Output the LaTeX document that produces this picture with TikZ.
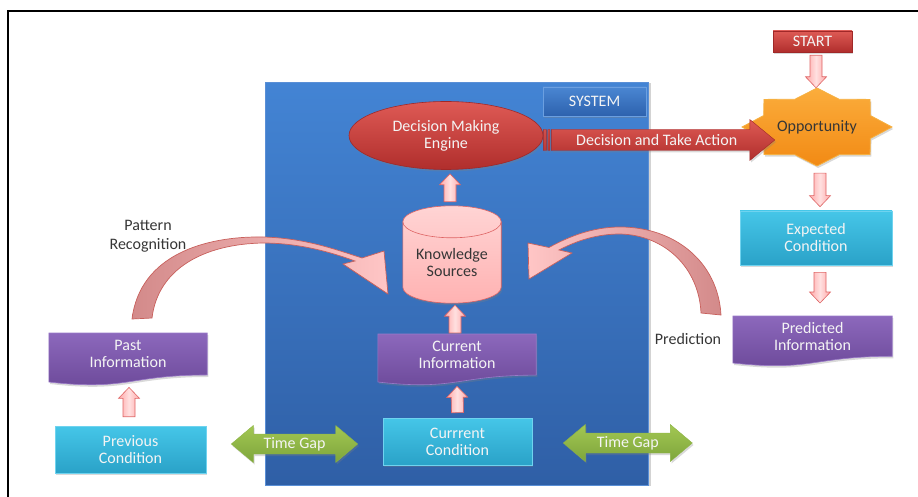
\documentclass[tikz,border=0pt]{standalone}
\usepackage{fontspec}
\setmainfont{Carlito}
\usetikzlibrary{calc,shadows,shapes.geometric}
\pgfdeclarelayer{back}
\pgfdeclarelayer{bg}
\pgfsetlayers{back,bg,main}

\definecolor{sysTop}{HTML}{4384D4}
\definecolor{sysBot}{HTML}{2F5FA6}
\definecolor{sysEdge}{HTML}{5A8FD6}
\definecolor{badgeTop}{HTML}{4A86D2}
\definecolor{badgeBot}{HTML}{2D62AE}
\definecolor{badgeEdge}{HTML}{6B9FE0}
\definecolor{redTop}{HTML}{DE5A55}
\definecolor{redBot}{HTML}{B02E2C}
\definecolor{redEdge}{HTML}{A02828}
\definecolor{cyanTop}{HTML}{45C6E8}
\definecolor{cyanBot}{HTML}{2AA2C8}
\definecolor{cyanEdge}{HTML}{6FD3EF}
\definecolor{purpTop}{HTML}{8C68BC}
\definecolor{purpBot}{HTML}{6B4898}
\definecolor{purpEdge}{HTML}{9A7AC8}
\definecolor{greenTop}{HTML}{A2C752}
\definecolor{greenBot}{HTML}{7EA53C}
\definecolor{greenEdge}{HTML}{8DB445}
\definecolor{pinkMid}{HTML}{FFE0E0}
\definecolor{pinkSide}{HTML}{FFA8A8}
\definecolor{pinkEdge}{HTML}{DE6464}
\definecolor{orangeTop}{HTML}{FBAD3C}
\definecolor{orangeBot}{HTML}{F28A14}
\definecolor{orangeEdge}{HTML}{F6B040}
\definecolor{cylTop}{HTML}{FFD4D4}
\definecolor{cylBot}{HTML}{FFB2B2}
\definecolor{curveDark}{HTML}{D38A8A}
\definecolor{curveLight}{HTML}{FFC6C6}
\definecolor{curveEdge}{HTML}{C8605C}
\definecolor{darkText}{HTML}{363636}
\definecolor{boxText}{HTML}{F4F4F4}

% pink block arrow from #2 (tail) to #3 (tip)
\newcommand{\blockarrow}[3][]{%
  \coordinate (ba-h) at ($(#3)!11pt!(#2)$);
  \path[pinkblock,#1] ($(#2)!6pt!90:(#3)$) -- ($(ba-h)!6pt!90:(#3)$)
    -- ($(ba-h)!10.5pt!90:(#3)$) -- (#3) -- ($(ba-h)!10.5pt!-90:(#3)$)
    -- ($(ba-h)!6pt!-90:(#3)$) -- ($(#2)!6pt!-90:(#3)$) -- cycle;}

% green two-headed arrow between #1 and #2, labelled node #3
\newcommand{\timegap}[3]{%
  \coordinate (tg-a) at ($(#1)!22pt!(#2)$);
  \coordinate (tg-b) at ($(#2)!22pt!(#1)$);
  \path[greenblock] (#1) -- ($(tg-a)!18.5pt!90:(#2)$) -- ($(tg-a)!10pt!90:(#2)$)
    -- ($(tg-b)!10pt!-90:(#1)$) -- ($(tg-b)!18.5pt!-90:(#1)$) -- (#2)
    -- ($(tg-b)!18.5pt!90:(#1)$) -- ($(tg-b)!10pt!90:(#1)$)
    -- ($(tg-a)!10pt!-90:(#2)$) -- ($(tg-a)!18.5pt!-90:(#2)$) -- cycle;
  \node[text=boxText] (#3) at ($(#1)!0.5!(#2)$) {Time Gap};}

% document shape behind text node #1, left edge depth #2
\newcommand{\docshape}[2]{%
  \begin{pgfonlayer}{bg}
  \path[docfill] let \p1=(#1.north west), \p2=(#1.north east) in
    (\x1,\y1) -- (\x2,\y1) -- (\x2,\y1-0.857*#2)
    .. controls (0.5*\x1+0.5*\x2,\y1-0.857*#2) and (0.5*\x1+0.5*\x2,\y1-1.186*#2) ..
    (\x1,\y1-#2) -- cycle;
  \end{pgfonlayer}}

\begin{document}
\begin{tikzpicture}[x=1pt,y=-1pt,
  every node/.style={align=center, inner sep=0pt},
  font=\fontsize{16}{17}\selectfont,
  softshadow/.style={drop shadow={shadow xshift=1.2pt, shadow yshift=-2pt, opacity=0.3}},
  sysbox/.style={rectangle, draw=sysEdge, line width=0.6pt, top color=sysTop, bottom color=sysBot,
    drop shadow={shadow xshift=3pt, shadow yshift=-1pt, opacity=0.35}},
  badge/.style={rectangle, draw=badgeEdge, line width=0.6pt, top color=badgeTop, bottom color=badgeBot, text=boxText, softshadow},
  engine/.style={ellipse, draw=redEdge, line width=0.6pt, top color=redTop, bottom color=redBot, text=boxText, softshadow},
  startbox/.style={rectangle, draw=redEdge, line width=0.6pt, top color=redTop, bottom color=redBot, text=boxText, softshadow},
  condbox/.style={rectangle, draw=cyanEdge, line width=0.6pt, top color=cyanTop, bottom color=cyanBot, text=boxText, softshadow},
  doctext/.style={anchor=north, minimum height=41pt, text=boxText},
  docfill/.style={draw=purpEdge, line width=0.6pt, top color=purpTop, bottom color=purpBot, softshadow},
  pinkblock/.style={draw=pinkEdge, line width=0.6pt, left color=pinkSide, right color=pinkSide, middle color=pinkMid},
  greenblock/.style={draw=greenEdge, line width=0.4pt, top color=greenTop, bottom color=greenBot, softshadow},
  redarrow/.style={draw=redEdge, line width=0.4pt, top color=redTop, bottom color=redBot, softshadow},
  starstyle/.style={draw=orangeEdge, line width=0.8pt, top color=orangeTop, bottom color=orangeBot, softshadow},
  cylfill/.style={draw=pinkEdge, line width=0.6pt, top color=cylTop, bottom color=cylBot, softshadow},
  curvel/.style={draw=curveEdge, line width=0.7pt, left color=curveDark, right color=curveLight},
  curver/.style={draw=curveEdge, line width=0.7pt, left color=curveLight, right color=curveDark},
  note/.style={text=darkText}
]
\useasboundingbox (0,0) rectangle (918,497);

% outer frame
\draw[line width=2pt] (8,510) -- (8,11) -- (930,11);

% the system block
\begin{pgfonlayer}{back}
  \node[sysbox, minimum width=383, minimum height=403, anchor=north west] (sys) at (265,82) {};
\end{pgfonlayer}
\node[badge, minimum width=103, minimum height=29] (badge) at (594.5,101.5) {SYSTEM};

% inside the system
\node[engine, minimum width=194, minimum height=68] (dme) at (446,135.5) {Decision Making\\Engine};
\node[minimum width=98, minimum height=97] (ks) at (452,254.5) {};
\node[note] (kst) at ($(ks.center)+(0,8.5)$) {Knowledge\\Sources};
\begin{pgfonlayer}{bg}
  \path[cylfill] let \p1=(ks.north west), \p2=(ks.south east) in
    (\x1,\y1-16pt) -- (\x1,\y2+16pt)
    .. controls (\x1,\y2+7.16pt) and (\x1+21.94pt,\y2) .. (\x1+49pt,\y2)
    .. controls (\x1+76.06pt,\y2) and (\x2,\y2+7.16pt) .. (\x2,\y2+16pt)
    -- (\x2,\y1-16pt)
    .. controls (\x2,\y1-7.16pt) and (\x1+76.06pt,\y1) .. (\x1+49pt,\y1)
    .. controls (\x1+21.94pt,\y1) and (\x1,\y1-7.16pt) .. (\x1,\y1-16pt) -- cycle;
  \draw[pinkEdge, line width=0.6pt] let \p1=(ks.north west), \p2=(ks.south east) in
    (\x1,\y1-16pt)
    .. controls (\x1,\y1-24.84pt) and (\x1+21.94pt,\y1-32pt) .. (\x1+49pt,\y1-32pt)
    .. controls (\x1+76.06pt,\y1-32pt) and (\x2,\y1-24.84pt) .. (\x2,\y1-16pt);
\end{pgfonlayer}

\node[doctext, minimum width=158] (ci) at (457,334) {Current\\Information};
\docshape{ci}{48pt}
\node[condbox, minimum width=149, minimum height=47] (cc) at (457.5,441.5) {Currrent\\Condition};

% left column
\node[doctext, minimum width=158] (past) at (128,333) {Past\\Information};
\docshape{past}{49pt}
\node[condbox, minimum width=151, minimum height=47] (pc) at (130.5,449.5) {Previous\\Condition};

% right column
\node[startbox, minimum width=79, minimum height=21] (start) at (812.5,41.5) {START};
\node[text=darkText, minimum width=150, minimum height=78] (opp) at (817,127) {Opportunity};
\begin{pgfonlayer}{bg}
  \path[starstyle] ($(opp.center)+(75,0)$)
    \foreach \a/\rx/\ry in {22.5/57.75/30.03, 45/75/39, 67.5/57.75/30.03, 90/75/39,
      112.5/57.75/30.03, 135/75/39, 157.5/57.75/30.03, 180/75/39,
      202.5/57.75/30.03, 225/75/39, 247.5/57.75/30.03, 270/75/39,
      292.5/57.75/30.03, 315/75/39, 337.5/57.75/30.03}
    { -- ($(opp.center)+({\rx*cos(\a)},{\ry*sin(\a)})$) } -- cycle;
\end{pgfonlayer}
\node[condbox, minimum width=152, minimum height=54] (ec) at (816,238) {Expected\\Condition};
\node[doctext, minimum width=159] (pi) at (812.5,316) {Predicted\\Information};
\docshape{pi}{47pt}

% free labels
\node[note, font=\fontsize{16}{18.5}\selectfont] (patt) at (148,236) {Pattern\\Recognition};
\node[note] (pred) at (688,339) {Prediction};

% vertical block arrows
\coordinate (a1s) at ($(ks.north)+(-2,-4)$);   \coordinate (a1t) at ($(dme.south)+(4,4)$);
\coordinate (a2s) at ($(ci.north)+(-2,-1)$);   \coordinate (a2t) at ($(ks.south)+(3,2)$);
\coordinate (a3s) at ($(cc.north)+(0,-5)$);    \coordinate (a3t) at ($(ci.south)+(0,11)$);
\coordinate (a4s) at ($(pc.north)+(-1.5,-9)$); \coordinate (a4t) at ($(past.south)+(1,13)$);
\coordinate (a5s) at ($(start.south)+(3.5,3)$);\coordinate (a5t) at ($(opp.north)+(-1,0)$);
\coordinate (a6s) at ($(opp.south)+(3,7)$);    \coordinate (a6t) at ($(ec.north)+(4,-4)$);
\coordinate (a7s) at ($(ec.south)+(4,7)$);     \coordinate (a7t) at ($(pi.north)+(7.5,-13)$);
\blockarrow{a1s}{a1t}
\blockarrow{a2s}{a2t}
\blockarrow{a3s}{a3t}
\blockarrow{a4s}{a4t}
\blockarrow{a5s}{a5t}
\blockarrow{a6s}{a6t}
\blockarrow{a7s}{a7t}

% time gaps
\coordinate (tg1a) at ($(pc.east)+(25,-5.5)$);
\coordinate (tg1b) at ($(cc.west)+(-25,2.5)$);
\timegap{tg1a}{tg1b}{tgl}
\coordinate (tg2a) at ($(cc.east)+(31,1.5)$);
\coordinate (tg2b) at ($(tg2a)+(129,0)$);
\timegap{tg2a}{tg2b}{tgr}

% decision arrow into the opportunity
\coordinate (dta0) at ($(dme.east)+(0,4.5)$);
\coordinate (dtaT) at ($(opp.west)+(33,13)$);
\path[redarrow] let \p1=(dta0), \p2=(dtaT) in
  (\x1,\y1+10.5pt) rectangle (\x1+3pt,\y1-10.5pt)
  (\x1+4.5pt,\y1+10.5pt) rectangle (\x1+6.5pt,\y1-10.5pt)
  (\x1+8pt,\y1+10.5pt) -- (\x2-25pt,\y1+10.5pt) -- (\x2-25pt,\y1+20.5pt) -- (\x2,\y2)
  -- (\x2-25pt,\y1-20.5pt) -- (\x2-25pt,\y1-10.5pt) -- (\x1+8pt,\y1-10.5pt) -- cycle;
\node[text=boxText] (dtat) at ($(dta0)!0.49!(dtaT)$) {Decision and Take Action};

% curved arrows into the knowledge sources
\path[curvel] (132,319) .. controls (140,255) and (205,236) .. (263,237)
  .. controls (305,238) and (337,250) .. (362,258) -- (384,251) -- (388,294) -- (343,264) -- (355,261)
  .. controls (325,250) and (295,243) .. (263,243)
  .. controls (205,244) and (158,268) .. (152,318) -- cycle;
\path[curver] (721,315) .. controls (718,262) and (675,227) .. (620,227)
  .. controls (592,227) and (568,237) .. (549,247.5) -- (528,243) -- (529,279) -- (572,253) -- (559,250)
  .. controls (578,240) and (598,234) .. (620,234)
  .. controls (665,235) and (699,268) .. (701,313) -- cycle;
\end{tikzpicture}
\end{document}
